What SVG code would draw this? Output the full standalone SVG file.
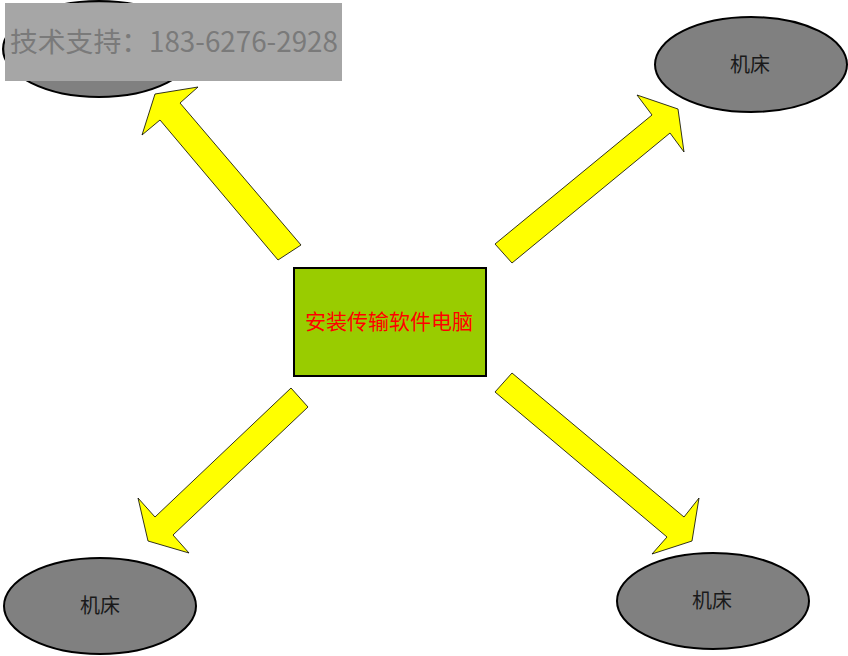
<svg xmlns="http://www.w3.org/2000/svg" width="848" height="656" viewBox="0 0 848 656">
<style>
.machine ellipse{fill:#808080;stroke:#000;stroke-width:2}
.lbl{font-family:"Noto Sans CJK SC","Noto Sans",sans-serif;font-size:20px;fill:#1a1a1a;text-anchor:middle}
.arrow{fill:#ffff00;stroke:#000;stroke-width:0.8;stroke-linejoin:miter}
</style>
<rect width="848" height="656" fill="#fff"/>
<g id="connectors">
<polygon class="arrow" points="301,245 180,103 198,87 155,94 142,135 160,120 278,260"/>
<polygon class="arrow" points="495,244 652,115 637,95 678,109 684,152 670,133 512,263"/>
<polygon class="arrow" points="291,388 308,407 173,535 189,553 148,541 138,498 155,517"/>
<polygon class="arrow" points="512,373 684,517 699,498 692,541 652,554 667,537 495,392"/>
</g>
<g id="machine-tl" class="machine">
<ellipse cx="99" cy="49" rx="96" ry="48"/>
</g>
<g id="machine-tr" class="machine">
<ellipse cx="751" cy="64.5" rx="96" ry="47.5"/>
<text class="lbl" x="750" y="72">机床</text>
</g>
<g id="machine-bl" class="machine">
<ellipse cx="100" cy="606" rx="96" ry="48"/>
<text class="lbl" x="100" y="613">机床</text>
</g>
<g id="machine-br" class="machine">
<ellipse cx="713" cy="601" rx="96" ry="48"/>
<text class="lbl" x="712" y="608">机床</text>
</g>
<g id="computer">
<rect x="294" y="268" width="192" height="108" fill="#99cc00" stroke="#000" stroke-width="2"/>
<text x="389" y="329" font-family="'Noto Sans CJK SC','Noto Sans',sans-serif" font-size="21" fill="#ff0000" text-anchor="middle">安装传输软件电脑</text>
</g>
<g id="watermark">
<rect x="5" y="3" width="337" height="78" fill="#a6a6a6"/>
<text x="10" y="52" font-family="'Noto Sans CJK SC','Noto Sans',sans-serif" font-size="27.8" fill="#7a7a7a">技术支持：183-6276-2928</text>
</g>
</svg>
